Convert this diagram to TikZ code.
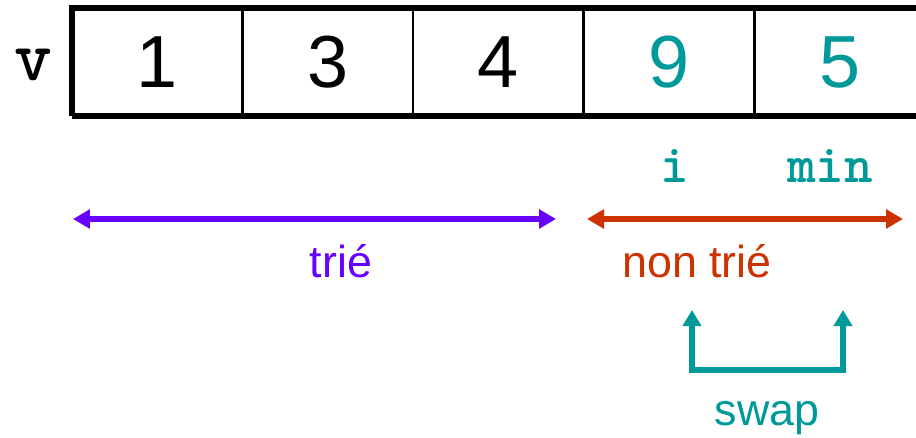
\documentclass[tikz,border=0pt]{standalone}
\usepackage{fontspec}
\setmainfont{Liberation Sans}
\usetikzlibrary{arrows.meta, positioning}

\definecolor{sortedcol}{HTML}{6600FF}
\definecolor{unsortedcol}{HTML}{CC3300}
\definecolor{swapcol}{HTML}{009999}

\begin{document}
\begin{tikzpicture}[x=0.02cm, y=-0.02cm,
    cell/.style={minimum width=3.4cm, minimum height=2.16cm, inner sep=0pt, font=\fontsize{42}{42}\selectfont},
    idx/.style={anchor=base, text=swapcol, font=\fontsize{31}{31}\selectfont\ttfamily\bfseries},
    lbl/.style={anchor=base, font=\fontsize{25.5}{25.5}\selectfont},
    span/.style={{Triangle[length=0.34cm,width=0.37cm]}-{Triangle[length=0.34cm,width=0.37cm]}, line width=3.2pt}
]
\useasboundingbox (0,0) rectangle (916,437);
\clip (0,0) rectangle (916,437);

% Array cells
\node[cell] (c1) at (157,62) {1};
\node[cell, right=0pt of c1] (c2) {3};
\node[cell, right=0pt of c2] (c3) {4};
\node[cell, right=0pt of c3, text=swapcol] (c4) {9};
\node[cell, right=0pt of c4, text=swapcol] (c5) {5};
\node[anchor=base, font=\fontsize{41}{41}\selectfont\ttfamily\bfseries] (vname) at (33,80) {v};

% Borders
\foreach \i in {1,2,3,4} {
    \draw[line width=1.4pt] (c\i.north east) -- (c\i.south east);
}
\draw[line width=3.4pt] (c1.south west) -- (c1.north west) -- (c5.north east);
\draw[line width=3.4pt] (c1.south west) -- (c5.south east);

% Indices
\node[idx] (iname) at (675,182) {i};
\node[idx] (minname) at (830,182) {min};

% Sorted / unsorted spans
\coordinate (sortL) at (73,219);
\coordinate (sortR) at (556,219);
\coordinate (unsL) at (587,219);
\coordinate (unsR) at (903,219);
\draw[span, sortedcol] (sortL) -- (sortR);
\draw[span, unsortedcol] (unsL) -- (unsR);
\node[lbl, text=sortedcol] (sortlbl) at (341,277) {trié};
\node[lbl, text=unsortedcol] (unslbl) at (697,277) {non trié};

% Swap
\coordinate (swapL) at (692,310);
\coordinate (swapR) at (843,310);
\draw[swapcol, line width=3.2pt, {Triangle[length=0.32cm,width=0.36cm]}-{Triangle[length=0.32cm,width=0.36cm]}]
    (swapL) -- (swapL |- 0,370) -- (swapR |- 0,370) -- (swapR);
\node[lbl, text=swapcol] (swaplbl) at (767,425) {swap};

\end{tikzpicture}
\end{document}
